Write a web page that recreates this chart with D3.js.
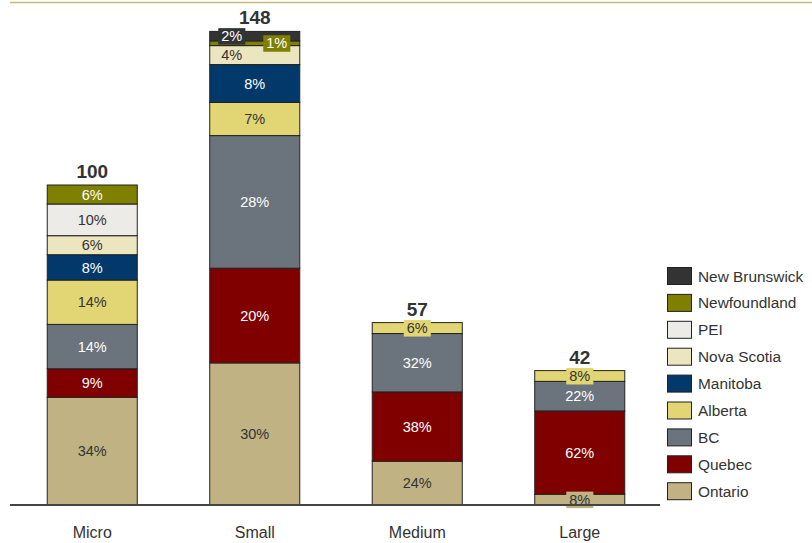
<!DOCTYPE html>
<html>
<head>
<meta charset="utf-8">
<script src="https://cdn.jsdelivr.net/npm/d3@7"></script>
<style>
  html, body { margin: 0; padding: 0; background: #fff; }
  svg { display: block; font-family: "Liberation Sans", Arial, sans-serif; }
</style>
</head>
<body>
<svg id="chart" width="812" height="543"></svg>
<script>
// ---- data ----
const categories = ["Micro", "Small", "Medium", "Large"];
const totals = [100, 148, 57, 42];
const provinces = ["Ontario", "Quebec", "BC", "Alberta", "Manitoba", "Nova Scotia", "PEI", "Newfoundland", "New Brunswick"];
// percentage shares per size category (stack order: Ontario at bottom)
const ontario      = [34, 30, 24, 8];
const quebec       = [9, 20, 38, 62];
const bc           = [14, 28, 32, 22];
const alberta      = [14, 7, 6, 8];
const manitoba     = [8, 8, 0, 0];
const novaScotia   = [6, 4, 0, 0];
const pei          = [10, 0, 0, 0];
const newfoundland = [6, 1, 0, 0];
const newBrunswick = [0, 2, 0, 0];
const colors = ["#c0b283", "#800000", "#6b737c", "#e1d574", "#03386b", "#ebe6bf", "#ecebe7", "#7f7f00", "#333333"];
const darkText = [false, true, true, false, true, false, false, true, true];

const seriesPct = [ontario, quebec, bc, alberta, manitoba, novaScotia, pei, newfoundland, newBrunswick];

// ---- build stacked table (counts derived from total * share) ----
const table = categories.map((c, i) => {
  const sumPct = d3.sum(seriesPct, s => s[i]);
  const row = { category: c, total: totals[i] };
  provinces.forEach((p, k) => { row[p] = totals[i] * seriesPct[k][i] / sumPct; });
  return row;
});
const stacked = d3.stack().keys(provinces)(table);

const svg = d3.select("#chart");
const FONT = "'Liberation Sans', Arial, sans-serif";

const x = d3.scaleBand().domain(categories).range([11, 661]).paddingInner(0.446).paddingOuter(0.223);
const y = d3.scaleLinear().domain([0, 150]).range([505, 25]);

// top rule
svg.append("line").attr("x1", 10).attr("x2", 812).attr("y1", 2.5).attr("y2", 2.5)
  .attr("stroke", "#c8b97a").attr("stroke-width", 1.5);

// bars
const layers = svg.append("g").selectAll("g").data(stacked).join("g")
  .attr("fill", (d, k) => colors[k]);
layers.selectAll("rect").data(d => d.filter(s => s[1] - s[0] > 0)).join("rect")
  .attr("x", d => x(d.data.category))
  .attr("y", d => y(d[1]))
  .attr("width", x.bandwidth())
  .attr("height", d => y(d[0]) - y(d[1]))
  .attr("stroke", "#222")
  .attr("stroke-width", 1);

// labels with background boxes, collision avoidance by alternating offsets
const labelG = svg.append("g").attr("font-size", 14.5).attr("font-family", FONT);
categories.forEach((c, i) => {
  const labs = [];
  stacked.forEach((layer, k) => {
    const s = layer[i];
    if (s[1] - s[0] <= 0) return;
    labs.push({ k, pct: seriesPct[k][i], cy: (y(s[0]) + y(s[1])) / 2, dx: 0 });
  });
  let cluster = [];
  const clusters = [];
  labs.forEach((l, j) => {
    if (j > 0 && Math.abs(labs[j - 1].cy - l.cy) < 14) cluster.push(l);
    else { if (cluster.length) clusters.push(cluster); cluster = [l]; }
  });
  if (cluster.length) clusters.push(cluster);
  clusters.forEach(cl => {
    if (cl.length > 1) cl.forEach((l, j) => { l.dx = (j % 2 === 0) ? -23 : 22; });
  });
  const cx = x(c) + x.bandwidth() / 2;
  labs.forEach(l => {
    const g = labelG.append("g");
    const t = g.append("text")
      .attr("x", cx + l.dx).attr("y", l.cy)
      .attr("text-anchor", "middle").attr("dy", "0.36em")
      .attr("fill", darkText[l.k] ? "#ffffff" : "#333333")
      .text(l.pct + "%");
    const bb = t.node().getBBox();
    g.insert("rect", "text")
      .attr("x", bb.x - 3).attr("y", l.cy - 8)
      .attr("width", bb.width + 6).attr("height", 16.5)
      .attr("fill", colors[l.k]);
  });
});

// totals
svg.append("g").selectAll("text").data(table).join("text")
  .attr("x", d => x(d.category) + x.bandwidth() / 2)
  .attr("y", d => y(d.total) - 7)
  .attr("text-anchor", "middle")
  .attr("font-family", FONT)
  .attr("font-size", 19).attr("font-weight", "bold").attr("fill", "#333")
  .text(d => d.total);

// x axis
const xAxis = svg.append("g").attr("transform", "translate(0,505)")
  .call(d3.axisBottom(x).tickSize(0).tickPadding(22));
xAxis.select(".domain").attr("d", "M10,0H660").attr("stroke", "#444").attr("stroke-width", 2);
xAxis.selectAll("text").attr("font-size", 16).attr("fill", "#333").attr("font-family", FONT);

// legend
const legendOrder = provinces.map((p, k) => k).reverse();
const legend = svg.append("g").attr("transform", "translate(667,267)");
const items = legend.selectAll("g").data(legendOrder).join("g")
  .attr("transform", (d, j) => `translate(0,${j * 26.9})`);
items.append("rect").attr("x", 0.5).attr("y", 0.5).attr("width", 24).attr("height", 17)
  .attr("fill", d => colors[d]).attr("stroke", "#222").attr("stroke-width", 1);
items.append("text").attr("x", 31).attr("y", 9).attr("dy", "0.36em")
  .attr("font-size", 15.4).attr("fill", "#333").attr("font-family", FONT)
  .text(d => provinces[d]);
</script>
</body>
</html>
